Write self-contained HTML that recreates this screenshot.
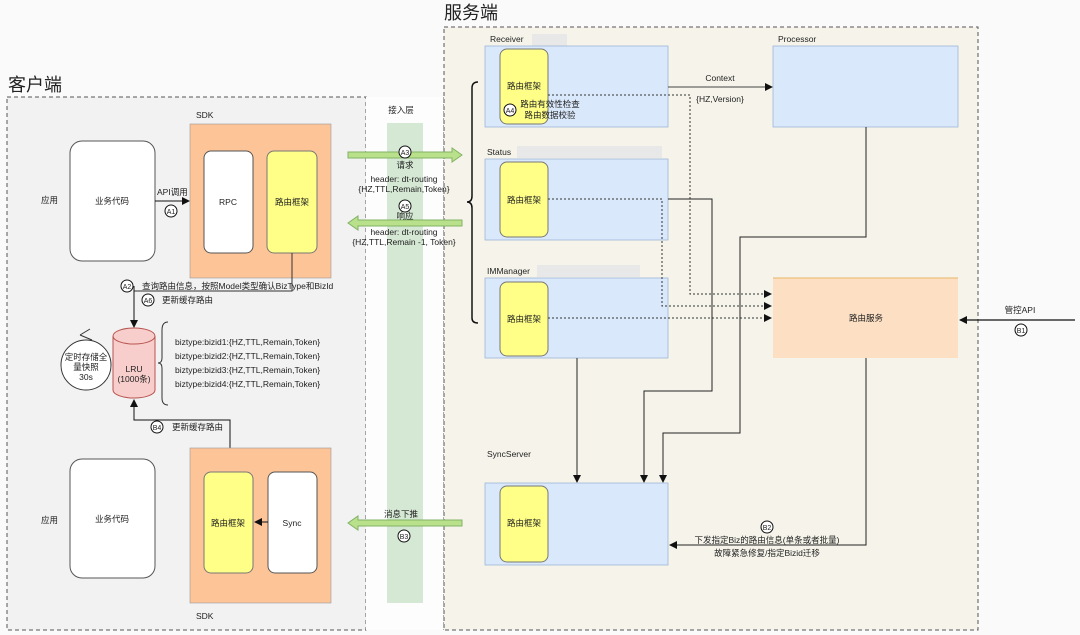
<!DOCTYPE html>
<html><head><meta charset="utf-8"><style>
html,body{margin:0;padding:0;background:#fff}
svg{display:block}
text{font-family:"Liberation Sans","Noto Sans CJK SC",sans-serif;font-size:8.5px;fill:#222}
.t{font-size:18px}
.c{text-anchor:middle}
</style></head><body>
<svg width="1080" height="635" viewBox="0 0 1080 635" xmlns="http://www.w3.org/2000/svg">
<defs>
<marker id="ar" markerWidth="8" markerHeight="8" refX="7" refY="4" orient="auto" markerUnits="userSpaceOnUse"><path d="M0,0 L8,4 L0,8 Z" fill="#111"/></marker>
</defs>
<rect x="0" y="0" width="1080" height="635" fill="#fafafa"/>
<!-- client -->
<rect x="7" y="97" width="359" height="533" fill="#f2f2f2" stroke="#555" stroke-dasharray="4,3"/>
<text x="8" y="91" class="t">客户端</text>
<!-- access -->
<rect x="366" y="97" width="78" height="533" fill="#fdfdfd"/>
<line x1="444" y1="97" x2="444" y2="630" stroke="#555" stroke-dasharray="4,3"/>
<rect x="387" y="123" width="36" height="480" fill="#d5e8d4"/>
<text x="401" y="113" class="c">接入层</text>
<!-- server -->
<rect x="444" y="27" width="534" height="603" fill="#f6f4ea" stroke="#555" stroke-dasharray="4,3"/>
<text x="444" y="19" class="t">服务端</text>

<!-- client top -->
<text x="196" y="118">SDK</text>
<rect x="190" y="124" width="141" height="154" fill="#fdc497" stroke="#999" stroke-width="0.6"/>
<rect x="70" y="141" width="85" height="120" rx="12" fill="#fff" stroke="#555"/>
<text x="112" y="204" class="c">业务代码</text>
<text x="41" y="203">应用</text>
<rect x="204" y="151" width="49" height="102" rx="7" fill="#fff" stroke="#555"/>
<text x="228" y="205" class="c">RPC</text>
<rect x="267" y="151" width="50" height="102" rx="7" fill="#ffff88" stroke="#777"/>
<text x="292" y="205" class="c">路由框架</text>
<line x1="155" y1="201" x2="189" y2="201" stroke="#111" marker-end="url(#ar)"/>
<text x="157" y="195">API调用</text>
<circle cx="171" cy="211" r="6" fill="#fff" stroke="#111"/><text x="171" y="214" class="c" style="font-size:7px">A1</text>

<polyline points="292,253 292,291 134,291" fill="none" stroke="#333"/>
<line x1="134" y1="286" x2="134" y2="327" stroke="#111" marker-end="url(#ar)"/>
<circle cx="127" cy="286" r="6" fill="#fff" stroke="#111"/><text x="127" y="289" class="c" style="font-size:7px">A2</text>
<text x="142" y="289">查询路由信息，按照Model类型确认BizType和BizId</text>
<circle cx="148" cy="300" r="6" fill="#fff" stroke="#111"/><text x="148" y="303" class="c" style="font-size:7px">A6</text>
<text x="162" y="303">更新缓存路由</text>

<path d="M113,336 L113,390 A21,8 0 0 0 155,390 L155,336 A21,8 0 0 0 113,336 Z" fill="#f8cecc" stroke="#b85450"/>
<path d="M113,336 A21,8 0 0 0 155,336" fill="none" stroke="#b85450"/>
<text x="134" y="372" class="c">LRU</text><text x="134" y="382" class="c">(1000条)</text>
<circle cx="86" cy="365" r="25" fill="#fff" stroke="#333"/>
<path d="M80,335 L92,340 M80,335 L90,329" stroke="#333" fill="none"/>
<text x="86" y="360" class="c">定时存储全</text><text x="86" y="370" class="c">量快照</text><text x="86" y="380" class="c">30s</text>
<path d="M168,322 Q162,322 162,330 L162,358 Q162,363 158,363 Q162,363 162,368 L162,398 Q162,405 168,405" fill="none" stroke="#333"/>
<text x="175" y="345">biztype:bizid1:{HZ,TTL,Remain,Token}</text>
<text x="175" y="359">biztype:bizid2:{HZ,TTL,Remain,Token}</text>
<text x="175" y="373">biztype:bizid3:{HZ,TTL,Remain,Token}</text>
<text x="175" y="387">biztype:bizid4:{HZ,TTL,Remain,Token}</text>

<polyline points="230,472 230,420 134,420 134,400" fill="none" stroke="#111" marker-end="url(#ar)"/>
<circle cx="157" cy="427" r="6" fill="#fff" stroke="#111"/><text x="157" y="430" class="c" style="font-size:7px">B4</text>
<text x="172" y="430">更新缓存路由</text>

<!-- client bottom -->
<rect x="190" y="448" width="141" height="155" fill="#fdc497" stroke="#999" stroke-width="0.6"/>
<text x="196" y="619">SDK</text>
<rect x="70" y="459" width="85" height="119" rx="12" fill="#fff" stroke="#555"/>
<text x="112" y="522" class="c">业务代码</text>
<text x="41" y="523">应用</text>
<rect x="204" y="472" width="49" height="101" rx="7" fill="#ffff88" stroke="#777"/>
<text x="228" y="526" class="c">路由框架</text>
<rect x="268" y="472" width="49" height="101" rx="7" fill="#fff" stroke="#555"/>
<text x="292" y="526" class="c">Sync</text>
<line x1="268" y1="522" x2="255" y2="522" stroke="#111" marker-end="url(#ar)"/>

<!-- green arrows -->
<path d="M348,152 L452,152 L452,148 L462,155 L452,162 L452,158 L348,158 Z" fill="#b9e08a" stroke="#82b366"/>
<path d="M462,220 L358,220 L358,216 L348,223 L358,230 L358,226 L462,226 Z" fill="#b9e08a" stroke="#82b366"/>
<path d="M462,520 L358,520 L358,516 L348,523 L358,530 L358,526 L462,526 Z" fill="#b9e08a" stroke="#82b366"/>
<circle cx="405" cy="152" r="6" fill="#fff" stroke="#111"/><text x="405" y="155" class="c" style="font-size:7px">A3</text>
<text x="405" y="168" class="c">请求</text>
<text x="404" y="182" class="c">header: dt-routing</text>
<text x="404" y="192" class="c">{HZ,TTL,Remain,Token}</text>
<circle cx="405" cy="206" r="6" fill="#fff" stroke="#111"/><text x="405" y="209" class="c" style="font-size:7px">A5</text>
<text x="405" y="219" class="c">响应</text>
<text x="404" y="235" class="c">header: dt-routing</text>
<text x="404" y="245" class="c">{HZ,TTL,Remain -1, Token}</text>
<text x="401" y="517" class="c">消息下推</text>
<circle cx="404" cy="536" r="6" fill="#fff" stroke="#111"/><text x="404" y="539" class="c" style="font-size:7px">B3</text>

<!-- brace -->
<path d="M478,82 Q472,82 472,88 L472,196 Q472,202 467,202 Q472,202 472,208 L472,318 Q472,323 478,323" fill="none" stroke="#111" stroke-width="1.5"/>

<!-- receiver -->
<text x="490" y="42">Receiver</text><rect x="532" y="34" width="35" height="12" fill="#e8e8e8"/>
<rect x="485" y="46" width="183" height="81" fill="#dae8fc" stroke="#9fb6d6" stroke-width="0.8"/>
<rect x="500" y="49" width="48" height="75" rx="7" fill="#ffff88" stroke="#777"/>
<text x="524" y="89" class="c">路由框架</text>
<circle cx="510" cy="110" r="6" fill="#fff" stroke="#111"/><text x="510" y="113" class="c" style="font-size:7px">A4</text>
<text x="550" y="107" class="c">路由有效性检查</text>
<text x="550" y="118" class="c">路由数据校验</text>
<text x="778" y="42">Processor</text>
<rect x="773" y="46" width="185" height="81" fill="#dae8fc" stroke="#9fb6d6" stroke-width="0.8"/>
<line x1="668" y1="87" x2="772" y2="87" stroke="#444" marker-end="url(#ar)"/>
<text x="720" y="81" class="c">Context</text>
<text x="720" y="102" class="c">{HZ,Version}</text>

<text x="487" y="155">Status</text><rect x="517" y="146" width="145" height="12" fill="#e8e8e8"/>
<rect x="485" y="159" width="183" height="81" fill="#dae8fc" stroke="#9fb6d6" stroke-width="0.8"/>
<rect x="500" y="162" width="48" height="75" rx="7" fill="#ffff88" stroke="#777"/>
<text x="524" y="203" class="c">路由框架</text>

<text x="487" y="274">IMManager</text><rect x="537" y="265" width="103" height="12" fill="#e8e8e8"/>
<rect x="485" y="278" width="183" height="80" fill="#dae8fc" stroke="#9fb6d6" stroke-width="0.8"/>
<rect x="500" y="282" width="48" height="74" rx="7" fill="#ffff88" stroke="#777"/>
<text x="524" y="322" class="c">路由框架</text>

<rect x="773" y="278" width="185" height="80" fill="#fde0c4"/>
<line x1="773" y1="278" x2="958" y2="278" stroke="#e5b565"/>
<text x="866" y="321" class="c">路由服务</text>

<!-- dashed -->
<polyline points="548,95 690,95 690,294 771,294" fill="none" stroke="#333" stroke-dasharray="2,2" marker-end="url(#ar)"/>
<polyline points="548,199 662,199 662,306 771,306" fill="none" stroke="#333" stroke-dasharray="2,2" marker-end="url(#ar)"/>
<line x1="548" y1="318" x2="771" y2="318" stroke="#333" stroke-dasharray="2,2" marker-end="url(#ar)"/>

<!-- solid -->
<line x1="577" y1="358" x2="577" y2="482" stroke="#222" marker-end="url(#ar)"/>
<polyline points="668,199 712,199 712,391 644,391 644,482" fill="none" stroke="#222" marker-end="url(#ar)"/>
<polyline points="866,127 866,237 740,237 740,433 663,433 663,482" fill="none" stroke="#222" marker-end="url(#ar)"/>
<polyline points="866,358 866,545 670,545" fill="none" stroke="#222" marker-end="url(#ar)"/>
<circle cx="767" cy="527" r="6" fill="#fff" stroke="#111"/><text x="767" y="530" class="c" style="font-size:7px">B2</text>
<text x="767" y="543" class="c">下发指定Biz的路由信息(单条或者批量)</text>
<text x="767" y="556" class="c">故障紧急修复/指定Bizid迁移</text>

<text x="487" y="457">SyncServer</text>
<rect x="485" y="483" width="183" height="82" fill="#dae8fc" stroke="#9fb6d6" stroke-width="0.8"/>
<rect x="500" y="486" width="48" height="76" rx="7" fill="#ffff88" stroke="#777"/>
<text x="524" y="526" class="c">路由框架</text>

<line x1="1075" y1="320" x2="960" y2="320" stroke="#111" stroke-width="1.3" marker-end="url(#ar)"/>
<text x="1020" y="313" class="c">管控API</text>
<circle cx="1021" cy="330" r="6" fill="#fff" stroke="#111"/><text x="1021" y="333" class="c" style="font-size:7px">B1</text>
</svg>
</body></html>
